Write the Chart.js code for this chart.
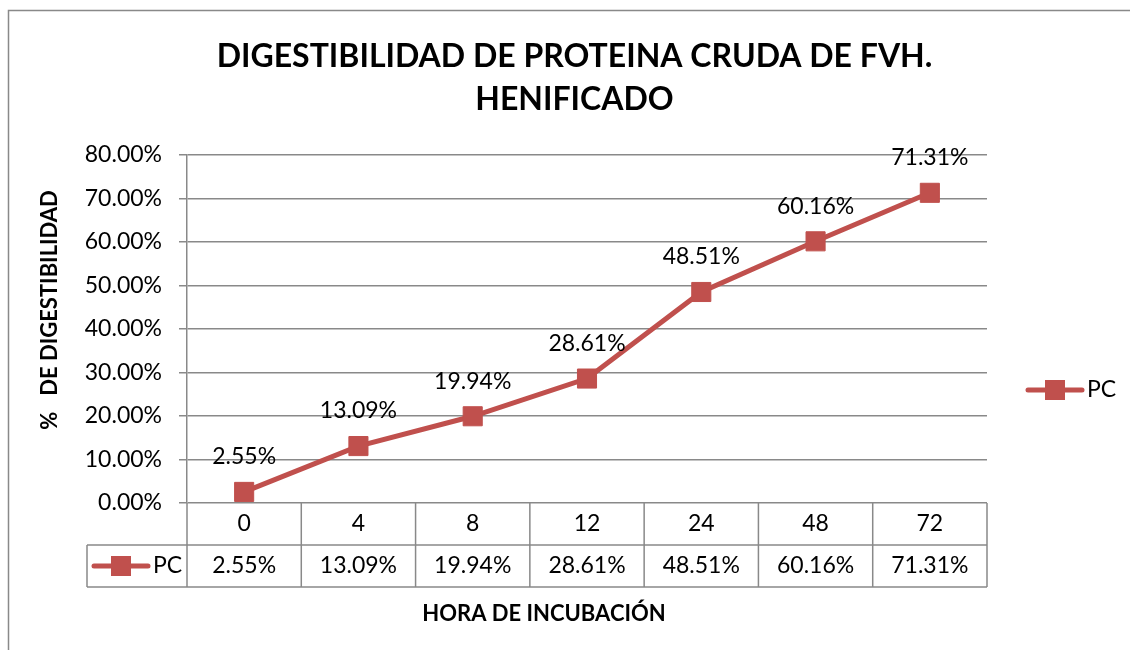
<!DOCTYPE html>
<html>
<head>
<meta charset="utf-8">
<script src="https://cdn.jsdelivr.net/npm/chart.js@4.4.1/dist/chart.umd.min.js"></script>
<style>
  html, body { margin: 0; padding: 0; background: #fff; }
  canvas { display: block; }
</style>
</head>
<body>
<canvas id="pcChart" width="1130" height="650"></canvas>
<script>
const horas = ["0", "4", "8", "12", "24", "48", "72"];
const pcValues = [2.55, 13.09, 19.94, 28.61, 48.51, 60.16, 71.31];
const yTicks = [0, 10, 20, 30, 40, 50, 60, 70, 80];

const red = "#C0504D";
const gridGray = "#898989";
const font = "Lato";
const textSize = 23;

function pct(v) { return v.toFixed(2) + "%"; }

// line + square key, like the excel legend
function drawKey(ctx, cx, cy) {
  ctx.save();
  ctx.strokeStyle = red;
  ctx.lineWidth = 5;
  ctx.lineCap = "round";
  ctx.beginPath();
  ctx.moveTo(cx - 27, cy);
  ctx.lineTo(cx + 27, cy);
  ctx.stroke();
  ctx.fillStyle = red;
  ctx.fillRect(cx - 10, cy - 10, 20, 20);
  ctx.restore();
}

const extras = {
  id: "extras",
  beforeDraw(chart) {
    const ctx = chart.ctx;
    ctx.save();
    ctx.fillStyle = "#fff";
    ctx.fillRect(0, 0, chart.width, chart.height);
    ctx.strokeStyle = gridGray;
    ctx.lineWidth = 1.5;
    ctx.strokeRect(8.5, 10.5, 1300, 1000);
    ctx.restore();
  },
  afterDatasetsDraw(chart) {
    const ctx = chart.ctx;
    const meta = chart.getDatasetMeta(0);
    ctx.save();
    ctx.font = textSize + "px " + font;
    ctx.fillStyle = "#000";
    ctx.textAlign = "center";
    ctx.textBaseline = "middle";
    meta.data.forEach((pt, i) => {
      ctx.fillText(pct(pcValues[i]), pt.x, pt.y - 35);
    });
    ctx.restore();
  },
  afterDraw(chart) {
    const ctx = chart.ctx;
    const area = chart.chartArea;
    const x = chart.scales.x;
    const step = x.getPixelForValue(1) - x.getPixelForValue(0);
    const r0 = area.bottom, r1 = r0 + 42, r2 = r1 + 42;
    const keyLeft = 87;

    ctx.save();
    ctx.strokeStyle = gridGray;
    ctx.lineWidth = 1.5;
    ctx.beginPath();
    ctx.moveTo(keyLeft, r1); ctx.lineTo(area.right, r1);
    ctx.moveTo(keyLeft, r2); ctx.lineTo(area.right, r2);
    ctx.moveTo(keyLeft, r1); ctx.lineTo(keyLeft, r2);
    for (let i = 0; i <= horas.length; i++) {
      const bx = x.getPixelForValue(0) - step / 2 + i * step;
      ctx.moveTo(bx, r0); ctx.lineTo(bx, r2);
    }
    ctx.stroke();

    ctx.font = textSize + "px " + font;
    ctx.fillStyle = "#000";
    ctx.textAlign = "center";
    ctx.textBaseline = "middle";
    pcValues.forEach((v, i) => {
      ctx.fillText(pct(v), x.getPixelForValue(i), (r1 + r2) / 2);
    });

    // table key and right legend
    const label = chart.data.datasets[0].label;
    ctx.textAlign = "left";
    drawKey(ctx, 121, (r1 + r2) / 2);
    ctx.fillText(label, 153, (r1 + r2) / 2);
    drawKey(ctx, 1055, 390);
    ctx.fillText(label, 1087, 390);

    // axis titles
    ctx.font = "bold 22px " + font;
    ctx.textAlign = "center";
    ctx.fillText("HORA DE INCUBACIÓN", 544, 614);
    ctx.translate(50, 310);
    ctx.rotate(-Math.PI / 2);
    ctx.fillText("%   DE DIGESTIBILIDAD", 0, 0);
    ctx.restore();
  }
};

const ctx = document.getElementById("pcChart").getContext("2d");
new Chart(ctx, {
  type: "line",
  data: {
    labels: horas,
    datasets: [{
      label: "PC",
      data: pcValues,
      borderColor: red,
      backgroundColor: red,
      borderWidth: 5,
      tension: 0,
      pointStyle: "rect",
      pointRadius: 13.5,
      pointBorderWidth: 1,
      pointBackgroundColor: red,
      pointBorderColor: red,
      fill: false
    }]
  },
  options: {
    responsive: false,
    animation: false,
    devicePixelRatio: 1,
    layout: { padding: { left: 19, right: 0, top: 0, bottom: 0 } },
    plugins: {
      legend: { display: false },
      tooltip: { enabled: false },
      title: {
        display: true,
        text: ["DIGESTIBILIDAD DE PROTEINA CRUDA DE FVH.", "HENIFICADO"],
        color: "#000",
        font: { family: font, size: 32, weight: "bold", lineHeight: 1.344 },
        padding: { top: 35.5, bottom: 33.5 }
      }
    },
    scales: {
      x: {
        offset: true,
        grid: { display: false, drawTicks: false },
        border: { display: false },
        ticks: { color: "#000", font: { family: font, size: textSize }, padding: 7 },
        afterFit: s => { s.height = 147; }
      },
      y: {
        min: 0,
        max: 80,
        afterBuildTicks: s => { s.ticks = yTicks.map(v => ({ value: v })); },
        grid: { color: gridGray, lineWidth: 1.5, tickLength: 8 },
        border: { color: gridGray, width: 1.5 },
        ticks: { color: "#000", font: { family: font, size: textSize }, padding: 17, callback: v => pct(v) },
        afterFit: s => { s.width = 168; }
      },
      y2: {
        position: "right",
        grid: { display: false, drawTicks: false },
        border: { display: false },
        ticks: { display: false },
        afterFit: s => { s.width = 143; }
      }
    }
  },
  plugins: [extras]
});
</script>
</body>
</html>
